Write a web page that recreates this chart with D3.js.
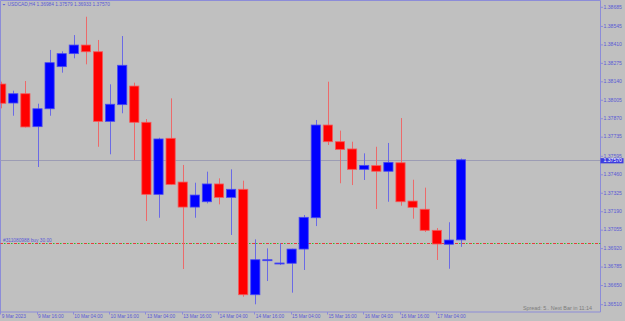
<!DOCTYPE html>
<html>
<head>
<meta charset="utf-8">
<script src="https://cdn.jsdelivr.net/npm/d3@7"></script>
<style>
  body { margin: 0; background: #c0c0c0; }
  svg { display: block; }
  text { font-family: "Liberation Sans", Arial, sans-serif; }
</style>
</head>
<body>
<div class="container"></div>
<script>
const WIDTH = 625;
const HEIGHT = 321;

// USDCAD H4, 9 Mar 04:00 .. 17 Mar 12:00
const times = ["9 Mar 04:00", "9 Mar 08:00", "9 Mar 12:00", "9 Mar 16:00", "9 Mar 20:00",
  "10 Mar 00:00", "10 Mar 04:00", "10 Mar 08:00", "10 Mar 12:00", "10 Mar 16:00", "10 Mar 20:00",
  "13 Mar 00:00", "13 Mar 04:00", "13 Mar 08:00", "13 Mar 12:00", "13 Mar 16:00", "13 Mar 20:00",
  "14 Mar 00:00", "14 Mar 04:00", "14 Mar 08:00", "14 Mar 12:00", "14 Mar 16:00", "14 Mar 20:00",
  "15 Mar 00:00", "15 Mar 04:00", "15 Mar 08:00", "15 Mar 12:00", "15 Mar 16:00", "15 Mar 20:00",
  "16 Mar 00:00", "16 Mar 04:00", "16 Mar 08:00", "16 Mar 12:00", "16 Mar 16:00", "16 Mar 20:00",
  "17 Mar 00:00", "17 Mar 04:00", "17 Mar 08:00", "17 Mar 12:00"];

const open  = [1.38124, 1.37985, 1.38053, 1.37812, 1.37943, 1.38251, 1.38346, 1.38409, 1.38360, 1.37851,
  1.37973, 1.38109, 1.37844, 1.37317, 1.37727, 1.37407, 1.37224, 1.37263, 1.37393, 1.37295,
  1.37354, 1.36583, 1.36832, 1.36808, 1.36813, 1.36917, 1.37146, 1.37824, 1.37702, 1.37649,
  1.37500, 1.37527, 1.37486, 1.37548, 1.37268, 1.37208, 1.37054, 1.36952, 1.36984];
const high  = [1.38141, 1.38075, 1.38146, 1.37980, 1.38373, 1.38363, 1.38482, 1.38616, 1.38446, 1.38122,
  1.38475, 1.38134, 1.37868, 1.37731, 1.38019, 1.37532, 1.37402, 1.37483, 1.37434, 1.37500,
  1.37417, 1.36988, 1.36922, 1.36959, 1.36919, 1.37166, 1.37861, 1.38141, 1.37783, 1.37702,
  1.37617, 1.37665, 1.37693, 1.37875, 1.37424, 1.37366, 1.37071, 1.37113, 1.37579];
const low   = [1.37946, 1.37892, 1.37806, 1.37517, 1.37892, 1.38207, 1.38312, 1.38268, 1.37665, 1.37610,
  1.37910, 1.37568, 1.37122, 1.37146, 1.37385, 1.36771, 1.37146, 1.37251, 1.37244, 1.37020,
  1.36568, 1.36513, 1.36683, 1.36800, 1.36598, 1.36764, 1.37085, 1.37678, 1.37398, 1.37385,
  1.37422, 1.37210, 1.37263, 1.37234, 1.37139, 1.37042, 1.36837, 1.36773, 1.36933];
const close = [1.37983, 1.38053, 1.37810, 1.37943, 1.38280, 1.38346, 1.38409, 1.38360, 1.37851, 1.37976,
  1.38261, 1.37844, 1.37317, 1.37722, 1.37390, 1.37224, 1.37312, 1.37393, 1.37295, 1.37354,
  1.36583, 1.36839, 1.36839, 1.36815, 1.36917, 1.37149, 1.37824, 1.37702, 1.37646, 1.37500,
  1.37529, 1.37486, 1.37551, 1.37263, 1.37222, 1.37054, 1.36954, 1.36983, 1.37570];

const priceTicks = ["1.38685", "1.38545", "1.38410", "1.38275", "1.38140", "1.38005", "1.37870", "1.37735",
  "1.37595", "1.37460", "1.37325", "1.37190", "1.37055", "1.36920", "1.36785", "1.36650", "1.36510"];

// time axis labels: bar index -> text
const timeTickBars = [0, 3, 6, 9, 12, 15, 18, 21, 24, 27, 30, 33, 36];
const timeTickLabels = ["9 Mar 2023", "9 Mar 16:00", "10 Mar 04:00", "10 Mar 16:00", "13 Mar 04:00",
  "13 Mar 16:00", "14 Mar 04:00", "14 Mar 16:00", "15 Mar 04:00", "15 Mar 16:00", "16 Mar 04:00",
  "16 Mar 16:00", "17 Mar 04:00"];

const symbol = "USDCAD,H4";
const bidPrice = 1.37570;
const orderPrice = 1.36961;
const orderLabel = "#311080988 buy 30.00";
const spreadText = "Spread: 5.. Next Bar in 11:14";

const PLOT_R = 600.5;
const PLOT_B = 312;
const AXIS = "#8c8cd8";
const TXT = "#5a5ad6";

var svg = d3.select(".container")
    .append("svg")
    .attr("width", WIDTH)
    .attr("height", HEIGHT);

svg.append("rect")
    .attr("width", WIDTH)
    .attr("height", HEIGHT)
    .attr("fill", "#c0c0c0");

var xScale = d3.scaleLinear()
    .domain([0, times.length - 1])
    .range([1.2, 461]);

var yScale = d3.scaleLinear()
    .domain([1.36510, 1.38685])
    .range([304.7, 7.3]);

svg.append("clipPath").attr("id", "plot")
    .append("rect")
    .attr("x", 0.5).attr("y", 0.5)
    .attr("width", PLOT_R - 0.5).attr("height", PLOT_B - 0.5);

// frame
svg.append("path")
    .attr("d", "M0.5," + PLOT_B + "V0.5H" + PLOT_R + "V" + PLOT_B + "H0.5")
    .attr("fill", "none")
    .attr("stroke", AXIS)
    .attr("stroke-width", 1);

var plot = svg.append("g").attr("clip-path", "url(#plot)");

// bid line
plot.append("line")
    .attr("x1", 0).attr("x2", PLOT_R)
    .attr("y1", Math.round(yScale(bidPrice)) + 0.5)
    .attr("y2", Math.round(yScale(bidPrice)) + 0.5)
    .attr("stroke", "#9c9cb4")
    .attr("stroke-width", 1);

// order line (red dash + green dot)
var oy = Math.round(yScale(orderPrice)) + 0.5;
plot.append("line")
    .attr("x1", 0).attr("x2", PLOT_R)
    .attr("y1", oy).attr("y2", oy)
    .attr("stroke", "#e83c3c")
    .attr("stroke-dasharray", "3,4")
    .attr("stroke-width", 1);
plot.append("line")
    .attr("x1", 0).attr("x2", PLOT_R)
    .attr("y1", oy).attr("y2", oy)
    .attr("stroke", "#28c028")
    .attr("stroke-dasharray", "0,4,1.5,1.5")
    .attr("stroke-width", 1);
plot.append("text")
    .attr("x", 3).attr("y", oy - 1.5)
    .attr("font-size", 4.8)
    .attr("fill", TXT)
    .text(orderLabel);

var bars = d3.range(times.length).map(function (i) {
    return { i: i, o: open[i], h: high[i], l: low[i], c: close[i] };
});

var candle = plot.selectAll(".candle")
    .data(bars)
    .enter().append("g")
    .attr("class", "candle");

candle.append("line")
    .attr("x1", function (d) { return Math.round(xScale(d.i)) + 0.5; })
    .attr("x2", function (d) { return Math.round(xScale(d.i)) + 0.5; })
    .attr("y1", function (d) { return yScale(d.h); })
    .attr("y2", function (d) { return yScale(d.l); })
    .attr("stroke", function (d) { return d.c >= d.o ? "#6a6ae6" : "#ec6a6a"; })
    .attr("stroke-width", 1);

candle.append("rect")
    .attr("x", function (d) { return xScale(d.i) - 4.6; })
    .attr("width", 9.2)
    .attr("y", function (d) { return yScale(Math.max(d.o, d.c)); })
    .attr("height", function (d) { return Math.max(1, Math.abs(yScale(d.o) - yScale(d.c))); })
    .attr("fill", function (d) { return d.c >= d.o ? "#0000ff" : "#ff0000"; })
    .attr("stroke", function (d) { return d.c >= d.o ? "#4a4af0" : "#f45a5a"; })
    .attr("stroke-width", 0.8);

// price axis
var py = svg.append("g");
py.selectAll("line")
    .data(priceTicks)
    .enter().append("line")
    .attr("x1", PLOT_R).attr("x2", PLOT_R + 2.5)
    .attr("y1", function (d) { return yScale(+d); })
    .attr("y2", function (d) { return yScale(+d); })
    .attr("stroke", AXIS);
py.selectAll("text")
    .data(priceTicks)
    .enter().append("text")
    .attr("x", 603.5)
    .attr("y", function (d) { return yScale(+d) + 1.3; })
    .attr("font-size", 5.1)
    .attr("fill", TXT)
    .text(function (d) { return d; });

// bid label
var by = yScale(bidPrice);
svg.append("rect")
    .attr("x", PLOT_R).attr("y", by - 1.6)
    .attr("width", 23).attr("height", 5.2)
    .attr("fill", "#3c3ce0");
svg.append("text")
    .attr("x", 603.5).attr("y", by + 2.6)
    .attr("font-size", 5.1)
    .attr("fill", "#ffffff")
    .text(d3.format(".5f")(bidPrice));

// time axis
var tx = svg.append("g");
tx.selectAll("line")
    .data(timeTickBars)
    .enter().append("line")
    .attr("x1", function (d) { return Math.round(xScale(d)) - 0.5; })
    .attr("x2", function (d) { return Math.round(xScale(d)) - 0.5; })
    .attr("y1", PLOT_B).attr("y2", PLOT_B + 2.5)
    .attr("stroke", AXIS);
tx.selectAll("text")
    .data(timeTickBars)
    .enter().append("text")
    .attr("x", function (d) { return xScale(d) + 0.5; })
    .attr("y", 318)
    .attr("font-size", 4.8)
    .attr("fill", TXT)
    .text(function (d, i) { return timeTickLabels[i]; });

// header
svg.append("path")
    .attr("d", "M2.5,4 L5.5,4 L4,5.6 Z")
    .attr("fill", TXT);
svg.append("text")
    .attr("x", 7.5).attr("y", 6.4)
    .attr("font-size", 4.8)
    .attr("fill", TXT)
    .text(symbol + "  " + [open[38], high[38], low[38], close[38]].map(d3.format(".5f")).join(" "));

// spread info
svg.append("text")
    .attr("x", 592).attr("y", 309.5)
    .attr("text-anchor", "end")
    .attr("font-family", "Liberation Mono, Courier New, monospace")
    .attr("font-size", 5.4)
    .attr("fill", "#7c7c7c")
    .text(spreadText);
</script>
</body>
</html>
